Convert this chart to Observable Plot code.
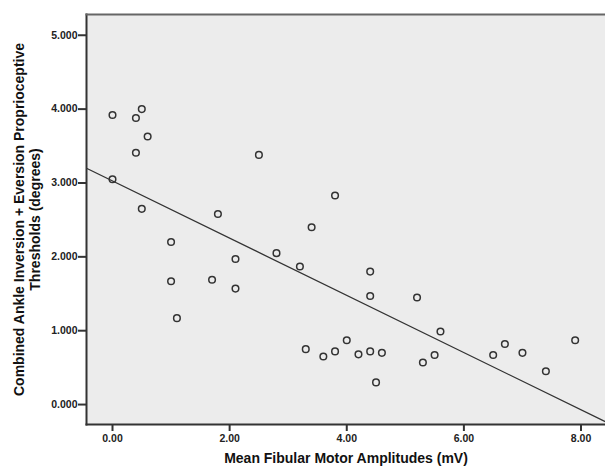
<!DOCTYPE html>
<html>
<head>
<meta charset="utf-8">
<script src="https://cdn.jsdelivr.net/npm/d3@7"></script>
<script src="https://cdn.jsdelivr.net/npm/@observablehq/plot@0.6"></script>
<style>
  html, body { margin: 0; padding: 0; background: #fff; }
  #chart { width: 605px; height: 470px; }
  svg { font-family: "Liberation Sans", Arial, sans-serif; }
</style>
</head>
<body>
<div id="chart"></div>
<script>
const amplitude = [0.0, 0.4, 0.5, 0.6, 0.4, 0.0, 0.5, 1.0, 1.0, 1.1, 1.7, 1.8, 2.1, 2.1, 2.5, 2.8, 3.2, 3.4, 3.3, 3.6, 3.8, 3.8, 4.0, 4.2, 4.4, 4.4, 4.4, 4.5, 4.6, 5.2, 5.3, 5.5, 5.6, 6.5, 6.7, 7.0, 7.4, 7.9];
const threshold = [3.92, 3.88, 4.00, 3.63, 3.41, 3.05, 2.65, 2.20, 1.67, 1.17, 1.69, 2.58, 1.97, 1.57, 3.38, 2.05, 1.87, 2.40, 0.75, 0.65, 0.72, 2.83, 0.87, 0.68, 1.80, 1.47, 0.72, 0.30, 0.70, 1.45, 0.57, 0.67, 0.99, 0.67, 0.82, 0.70, 0.45, 0.87];
const xTicks = [0, 2, 4, 6, 8];
const yTicks = [0, 1, 2, 3, 4, 5];
const xDomain = [-0.444, 8.418];
const yDomain = [-0.27, 5.281];
const xLabel = "Mean Fibular Motor Amplitudes (mV)";
const yLabel = ["Combined Ankle Inversion + Eversion Proprioceptive", "Thresholds (degrees)"];

const data = amplitude.map((a, i) => ({x: a, y: threshold[i]}));

// least-squares fit line across the full x extent of the plot area
const mx = d3.mean(amplitude), my = d3.mean(threshold);
const slope = d3.sum(amplitude, (a, i) => (a - mx) * (threshold[i] - my)) / d3.sum(amplitude, a => (a - mx) ** 2);
const intercept = my - slope * mx;
const fit = xDomain.map(x => ({x, y: intercept + slope * x}));

const ink = "#333";
const chart = Plot.plot({
  width: 605,
  height: 470,
  marginLeft: 86,
  marginTop: 14,
  marginRight: 0,
  marginBottom: 46,
  style: {background: "#fff", color: "#222", fontSize: "10.5px", fontWeight: "bold"},
  x: {domain: xDomain, label: null},
  y: {domain: yDomain, label: null},
  marks: [
    Plot.frame({fill: "#ececec", stroke: null}),
    Plot.line(fit, {x: "x", y: "y", stroke: ink, strokeWidth: 1.3, clip: true}),
    Plot.dot(data, {x: "x", y: "y", r: 3.3, stroke: ink, strokeWidth: 1.5, fill: "none"}),
    Plot.frame({anchor: "left", stroke: ink, strokeWidth: 2}),
    Plot.frame({anchor: "top", stroke: "#666", strokeWidth: 2}),
    Plot.frame({anchor: "bottom", stroke: ink, strokeWidth: 2}),
    Plot.axisX({ticks: xTicks, tickFormat: d => d.toFixed(2), tickSize: 7, tickPadding: 3, strokeWidth: 2, stroke: ink, label: null}),
    Plot.axisY({ticks: yTicks, tickFormat: d => d.toFixed(3), tickSize: 8, tickPadding: 1, strokeWidth: 2, stroke: ink, label: null}),
    Plot.text([xLabel], {frameAnchor: "bottom", dy: 38, text: d => d, fontSize: 14, fontWeight: "bold", fill: "#111"}),
    Plot.text([yLabel[0]], {frameAnchor: "left", dx: -67, rotate: -90, textAnchor: "middle", text: d => d, fontSize: 14, fontWeight: "bold", fill: "#111"}),
    Plot.text([yLabel[1]], {frameAnchor: "left", dx: -51, rotate: -90, textAnchor: "middle", text: d => d, fontSize: 14, fontWeight: "bold", fill: "#111"})
  ]
});
document.getElementById("chart").appendChild(chart);
</script>
</body>
</html>
